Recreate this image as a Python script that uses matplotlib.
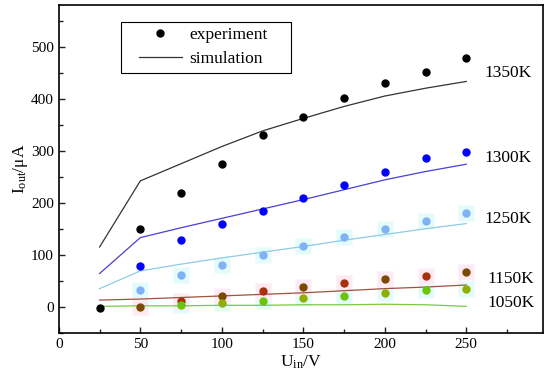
import matplotlib
matplotlib.use("Agg")
import matplotlib.pyplot as plt
from matplotlib.patches import Rectangle
from matplotlib.ticker import MultipleLocator

plt.rcParams['font.family'] = ['Liberation Serif', 'DejaVu Serif']
plt.rcParams['mathtext.fontset'] = 'custom'
plt.rcParams['mathtext.rm'] = 'Liberation Serif'
plt.rcParams['mathtext.it'] = 'Liberation Serif:italic'

# voltages
u_exp = [25, 50, 75, 100, 125, 150, 175, 200, 225, 250]
u_sim = [25, 50, 75, 100, 125, 150, 175, 200, 225, 250]

# experiment (uA)
exp_1350 = [-2, 149, 219, 274, 330, 365, 401, 430, 451, 479]
exp_1300 = [None, 79, 129, 159, 184, 210, 234, 260, 285, 298]
exp_1250 = [None, 33, 62, 80, 99, 117, 134, 150, 165, 180]
exp_1150 = [None, -1, 12, 21, 31, 38, 46, 54, 60, 66]
exp_1050 = [None, None, 3, 8, 12, 17, 21, 27, 32, 35]

# simulation (uA)
sim_1350 = [115, 242, 275, 308, 338, 362, 385, 405, 420, 433]
sim_1300 = [64, 133, 152, 170, 188, 206, 225, 244, 260, 274]
sim_1250 = [35, 69, 82, 94, 105, 116, 128, 139, 150, 160]
sim_1150 = [13, 15, 18, 21, 24, 27, 31, 35, 38, 42]
sim_1050 = [1, 2, 2, 3, 3, 4, 4, 5, 4, 1]

temps = ["1350K", "1300K", "1250K", "1150K", "1050K"]


def pts(xs, ys):
    xx = [x for x, y in zip(xs, ys) if y is not None]
    yy = [y for y in ys if y is not None]
    return xx, yy


fig = plt.figure(figsize=(5.5, 3.8), dpi=100)
ax = fig.add_axes([0.107, 0.124, 0.880, 0.863])

# pale halos behind some of the points
for ys, c in [(exp_1250, '#e4fbfb'), (exp_1050, '#e4fbfb'), (exp_1150, '#fdeaf4')]:
    xx, yy = pts(u_exp, ys)
    ax.plot(xx, yy, 's', ms=12, color=c, mec='none', zorder=1)

ax.plot(u_sim, sim_1350, '-', color='#333333', lw=0.9, zorder=2)
ax.plot(u_sim, sim_1300, '-', color='#4a3fd6', lw=0.9, zorder=2)
ax.plot(u_sim, sim_1250, '-', color='#8ecbe6', lw=0.9, zorder=2)
ax.plot(u_sim, sim_1150, '-', color='#a0523a', lw=0.9, zorder=2)
ax.plot(u_sim, sim_1050, '-', color='#7ac943', lw=0.9, zorder=2)

xx, yy = pts(u_exp, exp_1350)
ax.plot(xx, yy, 'o', ms=5, color='black', zorder=3)
xx, yy = pts(u_exp, exp_1300)
ax.plot(xx, yy, 'o', ms=5, color='#0000ff', zorder=3)
xx, yy = pts(u_exp, exp_1250)
ax.plot(xx, yy, 'o', ms=5, color='#80b2f5', zorder=3)
xx, yy = pts(u_exp, exp_1150)
for i, (x, y) in enumerate(zip(xx, yy)):
    ax.plot(x, y, 'o', ms=5, color=['#7a4a00', '#a8300c'][i % 2], zorder=3)
xx, yy = pts(u_exp, exp_1050)
for i, (x, y) in enumerate(zip(xx, yy)):
    ax.plot(x, y, 'o', ms=5, color=['#6cc40a', '#8fae00'][i % 2], zorder=3)

# legend box drawn by hand (wide, like the original), entries without frame
ax.add_patch(Rectangle((0.128, 0.793), 0.351, 0.155, transform=ax.transAxes,
                       facecolor='white', edgecolor='black', lw=0.8, zorder=4))
ax.plot([], [], 'o', ms=5, color='black', label='experiment')
ax.plot([], [], '-', color='#333333', lw=0.9, label='simulation')
leg = ax.legend(loc='upper left', bbox_to_anchor=(0.165, 0.932), fontsize=12.5,
                frameon=False, handlelength=2.5, handletextpad=0.4,
                borderpad=0, labelspacing=0.42, borderaxespad=0)
leg.set_zorder(5)

label_pos = [(261, 449), (261, 286), (261, 168), (263, 53), (263, 7)]
for t, (x, y) in zip(temps, label_pos):
    ax.text(x, y, t, fontsize=12.5, va='center', ha='left')

ax.set_xlim(0, 297)
ax.set_ylim(-50, 580)
ax.set_xticks([0, 50, 100, 150, 200, 250])
ax.set_yticks([0, 100, 200, 300, 400, 500])
ax.xaxis.set_minor_locator(MultipleLocator(25))
ax.yaxis.set_minor_locator(MultipleLocator(50))
ax.tick_params(which='both', direction='in', top=False, right=False,
               labelsize=11, width=1, color='#222222')
ax.tick_params(which='major', length=4)
ax.tick_params(which='minor', length=3)
for s in ax.spines.values():
    s.set_linewidth(1.2)

ax.set_xlabel(r'U$_{\mathrm{in}}$/V', fontsize=12.5, labelpad=2)
ax.set_ylabel(r'I$_{\mathrm{out}}$/μA', fontsize=12.5, labelpad=1)

fig.savefig('out.png', dpi=100)
